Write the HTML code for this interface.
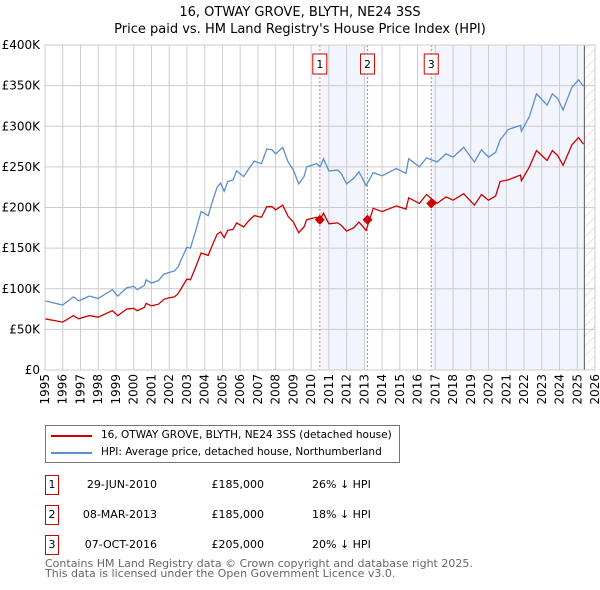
<!DOCTYPE html>
<html><head><meta charset="utf-8"><style>
body{margin:0;background:#fff;font-family:"DejaVu Sans","Liberation Sans",sans-serif;}
#wrap{position:relative;width:600px;height:590px;overflow:hidden}
</style></head><body><div id="wrap">
<svg id="chart" width="600" height="590" style="position:absolute;left:0;top:0" font-family="DejaVu Sans, Liberation Sans, sans-serif">
<defs><pattern id="hatch" width="7" height="7" patternUnits="userSpaceOnUse" patternTransform="rotate(45)"><line x1="0" y1="0" x2="0" y2="7" stroke="#ccc" stroke-width="1"/></pattern></defs>
<text x="300" y="16" text-anchor="middle" font-size="13">16, OTWAY GROVE, BLYTH, NE24 3SS</text>
<text x="300" y="33" text-anchor="middle" font-size="13">Price paid vs. HM Land Registry's House Price Index (HPI)</text>
<g id="g"></g>
</svg>
<div style="position:absolute;left:45px;top:425px;width:353px;height:36px;border:1px solid #777;font-size:10.5px;white-space:nowrap">
<div style="position:absolute;left:5px;top:9px;width:41px;height:2px;background:#cc0000"></div>
<div style="position:absolute;left:55px;top:3px">16, OTWAY GROVE, BLYTH, NE24 3SS (detached house)</div>
<div style="position:absolute;left:5px;top:26px;width:41px;height:2px;background:#5b8fd0"></div>
<div style="position:absolute;left:55px;top:20px">HPI: Average price, detached house, Northumberland</div>
</div>
<div id="tbl" style="font-size:11px"></div>
<div style="position:absolute;left:45px;top:559px;font-size:11px;color:#666;line-height:10px">Contains HM Land Registry data © Crown copyright and database right 2025.<br>This data is licensed under the Open Government Licence v3.0.</div>
</div>
<script>
const years=[1995.0,1996.0,1996.6,1996.9,1997.5,1998.0,1998.8,1999.1,1999.6,2000.0,2000.2,2000.6,2000.7,2001.0,2001.4,2001.7,2002.0,2002.3,2002.5,2002.7,2003.0,2003.2,2003.5,2003.8,2004.2,2004.4,2004.7,2004.9,2005.1,2005.3,2005.6,2005.8,2006.2,2006.5,2006.8,2007.2,2007.5,2007.8,2008.0,2008.4,2008.7,2009.0,2009.3,2009.6,2009.75,2010.3,2010.5,2010.7,2011.0,2011.5,2011.7,2012.0,2012.4,2012.7,2013.1,2013.5,2014.0,2014.8,2015.35,2015.5,2016.1,2016.5,2017.1,2017.6,2018.0,2018.6,2019.2,2019.6,2020.0,2020.4,2020.65,2021.1,2021.8,2021.85,2022.3,2022.7,2023.3,2023.6,2023.9,2024.2,2024.7,2025.07,2025.35];
const hpiValues=[85,80,90,85,91,88,99,91,101,103,99,104,111,107,110,118,120,122,127,137,151,150,172,195,190,205,225,230,220,232,234,245,238,248,257,254,272,271,266,274,256,246,229,238,250,254,250,260,245,246,242,229,236,244,227,243,239,248,242,260,250,261,256,266,262,274,256,271,262,268,283,296,301,294,312,340,326,340,334,320,348,357,349];
const propertyValues=[63,59,67,63,67,65,73,67,75,76,73,77,82,79,81,87,89,90,94,101,112,111,127,144,141,152,167,170,163,172,173,181,176,184,190,188,201,201,197,203,189,182,169,176,185,188,185,193,180,181,178,171,175,182,172,199,195,202,198,212,205,216,205,213,209,217,203,216,209,214,232,234,240,233,250,270,258,270,264,252,277,286,278];
const saleYears=[2010.49,2013.18,2016.77];
const salePrices=[185,185,205];
const saleDates=["29-JUN-2010","08-MAR-2013","07-OCT-2016"];
const salePriceLabels=["£185,000","£185,000","£205,000"];
const saleDiffs=["26% ↓ HPI","18% ↓ HPI","20% ↓ HPI"];
const yTicks=[0,50,100,150,200,250,300,350,400];
const yTickLabels=["£0","£50K","£100K","£150K","£200K","£250K","£300K","£350K","£400K"];
const dataEnd=2025.4;

const X0=45,X1=595,Y0=370,Y1=45,YR0=1995,YR1=2026,VMAX=400;
const xs=y=>X0+(y-YR0)/(YR1-YR0)*(X1-X0);
const ys=v=>Y0-v/VMAX*(Y0-Y1);
const NS="http://www.w3.org/2000/svg";
const g=document.getElementById('g');
function mk(t,a){const e=document.createElementNS(NS,t);for(const k in a)e.setAttribute(k,a[k]);g.appendChild(e);return e;}
let e=mk('rect',{x:xs(saleYears[0]),y:Y1,width:xs(saleYears[1])-xs(saleYears[0]),height:Y0-Y1,fill:'#f2f5fd'});


e=mk('rect',{x:xs(saleYears[2]),y:Y1,width:xs(dataEnd)-xs(saleYears[2]),height:Y0-Y1,fill:'#f2f5fd'});


e=mk('rect',{x:xs(dataEnd),y:Y1,width:X1-xs(dataEnd),height:Y0-Y1,fill:'url(#hatch)'});


for(let yr=YR0;yr<=YR1;yr++){
 e=mk('line',{x1:xs(yr),x2:xs(yr),y1:Y1,y2:Y0,stroke:'#ccc','stroke-width':1});
 
 
 e=mk('text',{x:0,y:0,'font-size':12,'text-anchor':'end',transform:`translate(${xs(yr)+4},${Y0+4}) rotate(-90)`});
 e.textContent=yr;
 
 
}
yTicks.forEach((v,i)=>{
 e=mk('line',{x1:X0,x2:X1,y1:ys(v),y2:ys(v),stroke:'#ccc','stroke-width':1});
 
 
 e=mk('text',{x:X0-5,y:ys(v)+4,'font-size':12,'text-anchor':'end'});
 e.textContent=yTickLabels[i];
 
 
});
e=mk('line',{x1:xs(dataEnd),x2:xs(dataEnd),y1:Y1,y2:Y0,stroke:'#555','stroke-width':1});


saleYears.forEach((sy,i)=>{
 e=mk('line',{x1:xs(sy),x2:xs(sy),y1:Y1,y2:Y0,stroke:'#f07070','stroke-width':1,'stroke-dasharray':'2,2'});
 
 
 e=mk('rect',{x:xs(sy)-7,y:54,width:14,height:20,fill:'#fff',stroke:'#cc0000'});
 
 
 e=mk('text',{x:xs(sy),y:68,'font-size':11,'text-anchor':'middle'});
 e.textContent=String(i+1);
 
 
});
const pts=vals=>years.map((y,i)=>xs(y).toFixed(1)+','+ys(vals[i]).toFixed(1)).join(' ');
e=mk('polyline',{points:pts(hpiValues),fill:'none',stroke:'#5b8fd0','stroke-width':1.3});


e=mk('polyline',{points:pts(propertyValues),fill:'none',stroke:'#cc0000','stroke-width':1.3});


saleYears.forEach((sy,i)=>{
 const cx=xs(sy),cy=ys(salePrices[i]);
 e=mk('polygon',{points:`${cx},${cy-5} ${cx+5},${cy} ${cx},${cy+5} ${cx-5},${cy}`,fill:'#cc0000'});
 
 
});
e=mk('rect',{x:X0,y:Y1,width:X1-X0,height:Y0-Y1,fill:'none',stroke:'#ccc'});


const tbl=document.getElementById('tbl');
saleDates.forEach((d,i)=>{
 const top=475+i*30;
 const row=document.createElement('div');
 
 
 row.style.cssText=`position:absolute;left:0;top:${top}px;width:600px;height:20px`;
 row.innerHTML=`<div style="position:absolute;left:45px;top:0;width:12px;height:18px;border:1px solid #cc0000;text-align:center;line-height:18px">${i+1}</div>
 <div style="position:absolute;left:60px;width:97px;text-align:right;line-height:20px">${d}</div>
 <div style="position:absolute;left:200px;width:64px;text-align:right;line-height:20px">${salePriceLabels[i]}</div>
 <div style="position:absolute;left:312px;line-height:20px">${saleDiffs[i]}</div>`;
 tbl.appendChild(row);
});
</script>
</body></html>
